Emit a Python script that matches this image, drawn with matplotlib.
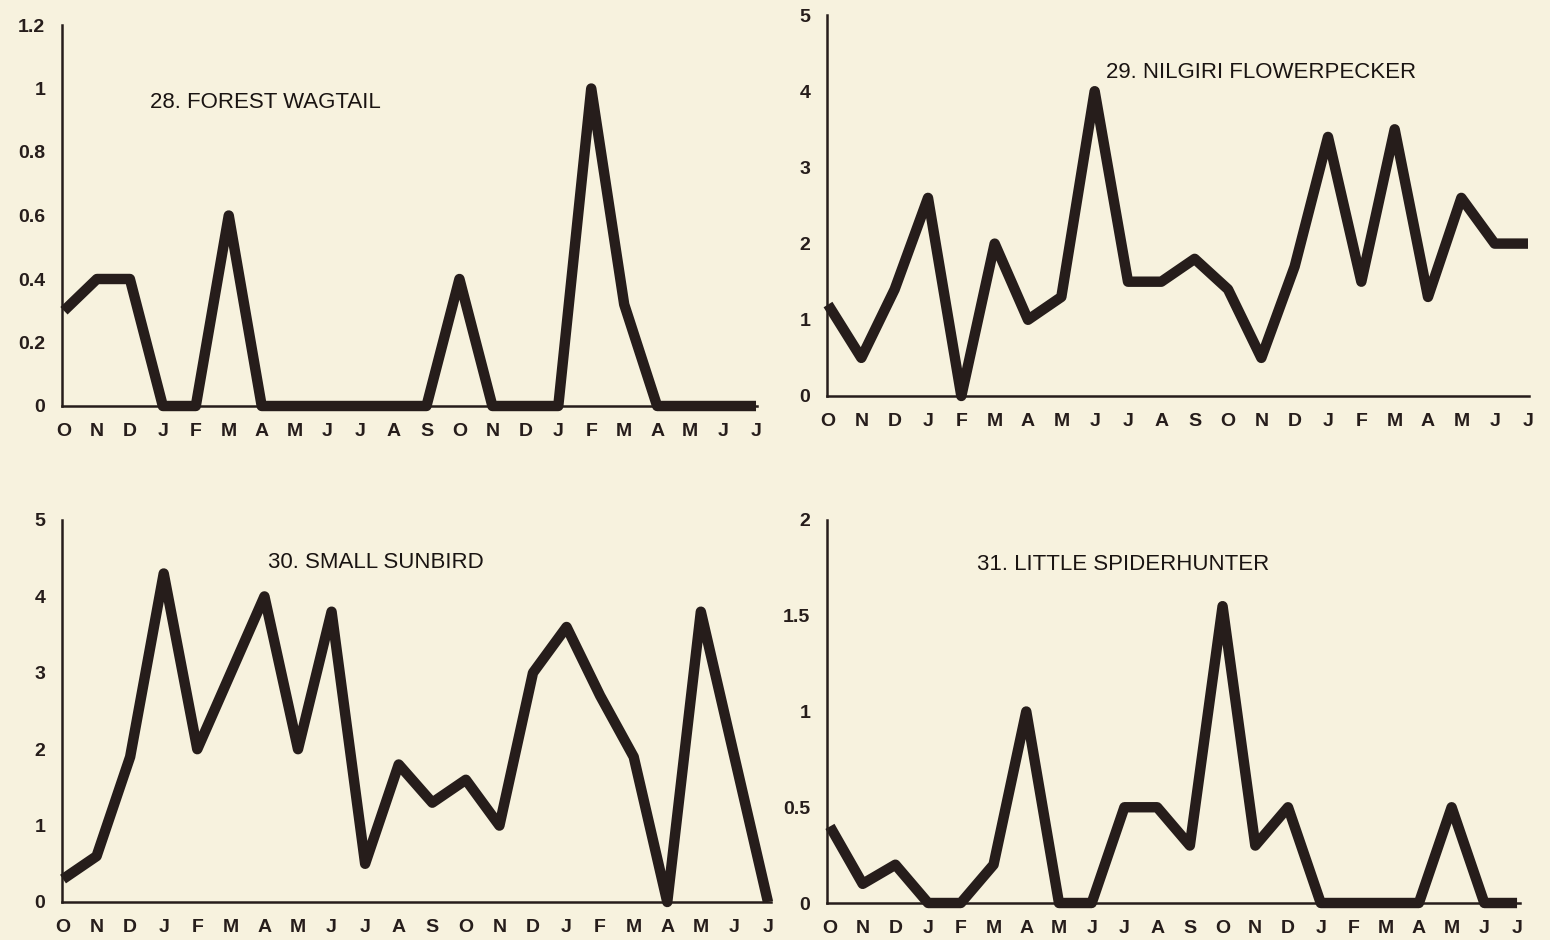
import matplotlib
matplotlib.use("Agg")
import matplotlib.pyplot as plt

# ========================
# Data
# ========================
months = ["O", "N", "D", "J", "F", "M", "A", "M", "J", "J", "A",
          "S", "O", "N", "D", "J", "F", "M", "A", "M", "J", "J"]

wagtail = [0.3, 0.4, 0.4, 0, 0, 0.6, 0, 0, 0, 0, 0,
           0, 0.4, 0, 0, 0, 1.0, 0.32, 0, 0, 0, 0]
flowerpecker = [1.2, 0.5, 1.4, 2.6, 0, 2.0, 1.0, 1.3, 4.0, 1.5, 1.5,
                1.8, 1.4, 0.5, 1.7, 3.4, 1.5, 3.5, 1.3, 2.6, 2.0, 2.0]
sunbird = [0.3, 0.6, 1.9, 4.3, 2.0, 3.0, 4.0, 2.0, 3.8, 0.5, 1.8,
           1.3, 1.6, 1.0, 3.0, 3.6, 2.7, 1.9, 0, 3.8, 1.9, 0]
spiderhunter = [0.4, 0.1, 0.2, 0, 0, 0.2, 1.0, 0, 0, 0.5, 0.5,
                0.3, 1.55, 0.3, 0.5, 0, 0, 0, 0, 0.5, 0, 0]

titles = ["28. FOREST WAGTAIL", "29. NILGIRI FLOWERPECKER",
          "30. SMALL SUNBIRD", "31. LITTLE SPIDERHUNTER"]
yticks_wagtail = [0, 0.2, 0.4, 0.6, 0.8, 1, 1.2]
yticks_flowerpecker = [0, 1, 2, 3, 4, 5]
yticks_sunbird = [0, 1, 2, 3, 4, 5]
yticks_spiderhunter = [0, 0.5, 1, 1.5, 2]

# ========================
# Style / layout (pixels of a 1550x940 canvas)
# ========================
W, H = 1550, 940
BG = "#f7f2de"
INK = "#261d1b"

# left, right, bottom, top in px; x-limits; title anchor in px
panels = [
    dict(box=(62, 757, 406, 25), xlim=(-0.06, 21.03), title_xy=(150, 103)),
    dict(box=(827, 1529, 396, 15), xlim=(-0.03, 21.03), title_xy=(1106, 72)),
    dict(box=(62, 771, 902, 520), xlim=(-0.03, 21.09), title_xy=(268, 563)),
    dict(box=(827, 1520, 903, 520), xlim=(-0.09, 21.09), title_xy=(977, 565)),
]


def draw_panel(fig, spec, values, yticks, title):
    l, r, b, t = spec["box"]
    ax = fig.add_axes([l / W, (H - b) / H, (r - l) / W, (b - t) / H])
    ax.set_facecolor(BG)

    x = list(range(len(months)))
    ax.plot(x, values, color=INK, lw=7.5, solid_joinstyle="round",
            solid_capstyle="butt", clip_on=False, zorder=3)

    ax.set_xlim(*spec["xlim"])
    ax.set_ylim(yticks[0], yticks[-1])
    ax.set_xticks(x)
    ax.set_xticklabels(months)
    ax.set_yticks(yticks)
    ax.set_yticklabels([f"{v:g}" for v in yticks])

    for side in ("top", "right"):
        ax.spines[side].set_visible(False)
    for side in ("left", "bottom"):
        ax.spines[side].set_color(INK)
        ax.spines[side].set_linewidth(1.8)

    ax.tick_params(axis="both", length=0, colors=INK, labelsize=14)
    ax.tick_params(axis="x", pad=12)
    ax.tick_params(axis="y", pad=12)
    for lab in ax.get_xticklabels() + ax.get_yticklabels():
        lab.set_fontweight("bold")

    tx, ty = spec["title_xy"]
    fig.text(tx / W, 1 - ty / H, title, ha="left", va="center",
             fontsize=16, color="#1a1412")
    return ax


def main():
    plt.rcParams["font.family"] = ["Liberation Sans", "DejaVu Sans"]

    fig = plt.figure(figsize=(W / 100, H / 100), dpi=100, facecolor=BG)

    series = [wagtail, flowerpecker, sunbird, spiderhunter]
    ticks = [yticks_wagtail, yticks_flowerpecker, yticks_sunbird, yticks_spiderhunter]
    for spec, vals, yt, title in zip(panels, series, ticks, titles):
        draw_panel(fig, spec, vals, yt, title)

    fig.savefig("out.png", dpi=100, facecolor=BG)


if __name__ == "__main__":
    main()
